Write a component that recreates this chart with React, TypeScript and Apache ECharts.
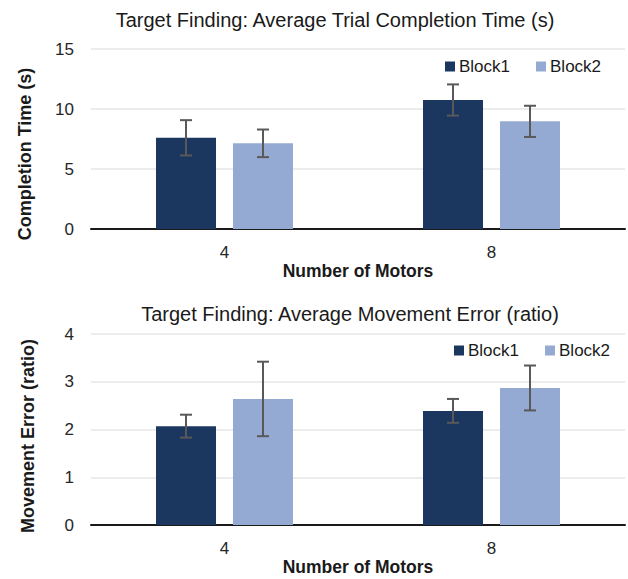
import React, { useEffect, useRef } from "react";
import * as echarts from "echarts";

const categories = ["4", "8"];
const seriesNames = ["Block1", "Block2"];

const timeBlock1 = [7.6, 10.75];
const timeBlock1Err = [1.47, 1.3];
const timeBlock2 = [7.14, 8.97];
const timeBlock2Err = [1.15, 1.3];

const moveBlock1 = [2.07, 2.39];
const moveBlock1Err = [0.24, 0.25];
const moveBlock2 = [2.64, 2.87];
const moveBlock2Err = [0.78, 0.47];

const timeTicks = { min: 0, max: 15, interval: 5 };
const moveTicks = { min: 0, max: 4, interval: 1 };

const FONT = "'Liberation Sans', Arial, sans-serif";
const DARK = "#1b375f";
const LIGHT = "#95aad2";
const BAR_W = 60;
const BAR_GAP = 0.283;

function errData(means: number[], errs: number[]) {
  return means.map((m, i) => [i, m - errs[i], m + errs[i]]);
}

function errSeries(data: number[][], gridIdx: number, side: number) {
  return {
    type: "custom",
    xAxisIndex: gridIdx,
    yAxisIndex: gridIdx,
    silent: true,
    z: 5,
    data,
    renderItem: (params: any, api: any) => {
      const idx = api.value(0);
      const lo = api.coord([idx, api.value(1)]);
      const hi = api.coord([idx, api.value(2)]);
      const off = side * (BAR_W + BAR_W * BAR_GAP) / 2;
      const x = lo[0] + off;
      const cap = 6;
      const style = { stroke: "#595959", lineWidth: 2, fill: "none" };
      return {
        type: "group",
        children: [
          { type: "line", shape: { x1: x, y1: lo[1], x2: x, y2: hi[1] }, style },
          { type: "line", shape: { x1: x - cap, y1: lo[1], x2: x + cap, y2: lo[1] }, style },
          { type: "line", shape: { x1: x - cap, y1: hi[1], x2: x + cap, y2: hi[1] }, style },
        ],
      };
    },
  };
}

function barSeries(name: string, data: number[], gridIdx: number, color: string) {
  return {
    type: "bar",
    name,
    xAxisIndex: gridIdx,
    yAxisIndex: gridIdx,
    data,
    barWidth: BAR_W,
    barGap: (BAR_GAP * 100).toFixed(1) + "%",
    itemStyle: { color },
  };
}

function xAxis(gridIndex: number) {
  return {
    type: "category",
    gridIndex,
    data: categories,
    axisTick: { show: false },
    axisLine: { show: true, lineStyle: { color: "#1a1a1a", width: 2 } },
    axisLabel: { fontFamily: FONT, fontSize: 17, color: "#262626", margin: 15 },
    name: "Number of Motors",
    nameLocation: "middle",
    nameGap: 32,
    nameTextStyle: { fontFamily: FONT, fontSize: 17.5, fontWeight: "bold", color: "#1a1a1a" },
  };
}

function yAxis(gridIndex: number, t: { min: number; max: number; interval: number }) {
  return {
    type: "value",
    gridIndex,
    min: t.min,
    max: t.max,
    interval: t.interval,
    axisLine: { show: false },
    axisTick: { show: false },
    axisLabel: { fontFamily: FONT, fontSize: 17, color: "#262626", margin: 17 },
    splitLine: { show: true, lineStyle: { color: "#ececec", width: 2 } },
  };
}

export default function App() {
  const ref = useRef<HTMLDivElement>(null);
  useEffect(() => {
    if (!ref.current) return;
    const chart = echarts.init(ref.current, null, { renderer: "svg" });
    const legendCommon = {
      data: seriesNames,
      icon: "rect",
      itemWidth: 10,
      itemHeight: 10,
      itemGap: 26,
      width: 300,
      textStyle: { fontFamily: FONT, fontSize: 17, color: "#1a1a1a", padding: [0, 0, 0, -1] },
    };
    chart.setOption({
      animation: false,
      backgroundColor: "#ffffff",
      title: [
        {
          text: "Target Finding: Average Trial Completion Time (s)",
          left: 330,
          top: 5,
          textAlign: "center",
          textStyle: { fontFamily: FONT, fontSize: 20, fontWeight: "normal", color: "#1a1a1a" },
        },
        {
          text: "Target Finding: Average Movement Error (ratio)",
          left: 345,
          top: 299,
          textAlign: "center",
          textStyle: { fontFamily: FONT, fontSize: 20, fontWeight: "normal", color: "#1a1a1a" },
        },
      ],
      legend: [
        { ...legendCommon, left: 440, top: 53 },
        { ...legendCommon, left: 449, top: 337 },
      ],
      grid: [
        { left: 91, right: 3, top: 49, height: 180 },
        { left: 91, right: 3, top: 334, height: 191 },
      ],
      xAxis: [xAxis(0), xAxis(1)],
      yAxis: [yAxis(0, timeTicks), yAxis(1, moveTicks)],
      graphic: [
        {
          type: "text",
          x: 25,
          y: 154,
          rotation: Math.PI / 2,
          style: {
            text: "Completion Time (s)",
            fontFamily: FONT,
            fontSize: 18,
            fontWeight: "bold",
            fill: "#1a1a1a",
            textAlign: "center",
            textVerticalAlign: "middle",
          },
        },
        {
          type: "text",
          x: 28,
          y: 436,
          rotation: Math.PI / 2,
          style: {
            text: "Movement Error (ratio)",
            fontFamily: FONT,
            fontSize: 18,
            fontWeight: "bold",
            fill: "#1a1a1a",
            textAlign: "center",
            textVerticalAlign: "middle",
          },
        },
      ],
      series: [
        barSeries(seriesNames[0], timeBlock1, 0, DARK),
        barSeries(seriesNames[1], timeBlock2, 0, LIGHT),
        barSeries(seriesNames[0], moveBlock1, 1, DARK),
        barSeries(seriesNames[1], moveBlock2, 1, LIGHT),
        errSeries(errData(timeBlock1, timeBlock1Err), 0, -1),
        errSeries(errData(timeBlock2, timeBlock2Err), 0, 1),
        errSeries(errData(moveBlock1, moveBlock1Err), 1, -1),
        errSeries(errData(moveBlock2, moveBlock2Err), 1, 1),
      ],
    });
    return () => chart.dispose();
  }, []);
  return (
    <div
      ref={ref}
      style={{ position: "fixed", left: 0, top: 0, width: 628, height: 579, background: "#fff" }}
    />
  );
}
